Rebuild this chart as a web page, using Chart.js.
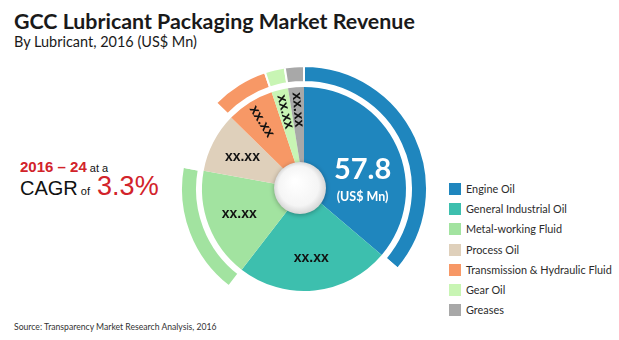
<!DOCTYPE html>
<html>
<head>
<meta charset="utf-8">
<script src="https://cdn.jsdelivr.net/npm/chart.js@4.4.0/dist/chart.umd.min.js"></script>
<style>
body { margin: 0; width: 619px; height: 340px; background: #fff; position: relative; overflow: hidden; font-family: Lato, "Liberation Sans", sans-serif; }
.abs { position: absolute; white-space: nowrap; line-height: 1; }
#title { left: 14px; top: 11px; font-size: 19px; font-weight: bold; color: #1a1a1a; }
#subtitle { left: 14px; top: 35px; font-size: 14px; color: #1a1a1a; }
.cagr { left: 20px; font-family: "Liberation Sans", Arial, sans-serif; font-size: 11px; color: #111; }
#cagr1 { top: 159px; }
#cagr2 { top: 173px; }
.red { color: #d2232a; }
#source { left: 14px; top: 323px; font-size: 8.5px; color: #333; }
#chartBox { position: absolute; left: 180px; top: 65px; }
#legend { position: absolute; left: 449px; top: 183px; margin: 0; padding: 0; list-style: none; }
#legend li { height: 20.2px; position: relative; font-size: 11.5px; color: #2b2b2b; white-space: nowrap; line-height: 1; }
#legend li span { position: absolute; left: 0; top: 0; width: 12px; height: 12px; }
#legend li b { position: absolute; left: 17px; top: 0; height: 12px; line-height: 12px; font-weight: normal; }
</style>
</head>
<body>
<div id="title" class="abs">GCC Lubricant Packaging Market Revenue</div>
<div id="subtitle" class="abs">By Lubricant, 2016 (US$ Mn)</div>
<div id="cagr1" class="abs cagr"><span class="red" style="font-size:15px;font-weight:bold">2016 – 24</span> at a</div>
<div id="cagr2" class="abs cagr"><span style="font-size:20px">CAGR</span> of <span class="red" style="font-size:27px;margin-left:4px">3.3%</span></div>
<div id="chartBox"><canvas id="lubricantChart" width="248" height="248"></canvas></div>
<ul id="legend"></ul>
<div id="source" class="abs">Source: Transparency Market Research Analysis, 2016</div>

<script>
//DATA
var categories = ["Engine Oil", "General Industrial Oil", "Metal-working Fluid", "Process Oil", "Transmission & Hydraulic Fluid", "Gear Oil", "Greases"];
var revenue = [57.8, 38.7, 27.8, 15.1, 12.0, 4.2, 4.0];
var sliceLabels = ["57.8", "xx.xx", "xx.xx", "xx.xx", "xx.xx", "xx.xx", "xx.xx"];
var unitLabel = "(US$ Mn)";
// which categories get the outer highlight arc
var outerArc = [true, false, true, false, true, true, true];

//Colors
var $engine = "#1f86be";
var $industrial = "#3dbfae";
var $metal = "#a2e3a0";
var $process = "#dfd0bb";
var $transmission = "#f79866";
var $gear = "#c8f5b4";
var $greases = "#a8a8a8";
var sliceColors = [$engine, $industrial, $metal, $process, $transmission, $gear, $greases];
var ringColors = sliceColors.map(function (c, i) { return outerArc[i] ? c : "rgba(0,0,0,0)"; });

// Legend
var legend = document.getElementById("legend");
categories.forEach(function (name, i) {
  var li = document.createElement("li");
  li.innerHTML = '<span style="background:' + sliceColors[i] + '"></span><b></b>';
  li.querySelector("b").textContent = name;
  legend.appendChild(li);
});

// scale a text's font so it spans the width seen in the original (Calibri there)
function fitWidth(els, target) {
  var widest = 0;
  els.forEach(function (el) { widest = Math.max(widest, el.getBoundingClientRect().width); });
  var size = parseFloat(getComputedStyle(els[0]).fontSize) * target / widest;
  els.forEach(function (el) { el.style.fontSize = size + "px"; });
}
fitWidth([document.getElementById("title")], 401);
fitWidth([document.getElementById("subtitle")], 183);
fitWidth([document.getElementById("source")], 203);
fitWidth(Array.prototype.slice.call(document.querySelectorAll("#legend li b")), 146);

// Center ball + slice labels
var pieDecor = {
  id: "pieDecor",
  afterDatasetsDraw: function (chart) {
    var ctx = chart.ctx;
    var meta = chart.getDatasetMeta(2);
    var first = meta.data[0];
    var cx = first.x - 4, cy = first.y - 1;

    ctx.save();
    ctx.shadowColor = "rgba(0,0,0,0.3)";
    ctx.shadowBlur = 5;
    ctx.shadowOffsetY = 1;
    var g = ctx.createRadialGradient(cx - 5, cy - 7, 2, cx, cy, 27);
    g.addColorStop(0, "#ffffff");
    g.addColorStop(0.72, "#f5f5f5");
    g.addColorStop(1, "#d2d2d2");
    ctx.fillStyle = g;
    ctx.beginPath();
    ctx.arc(cx, cy, 26, 0, Math.PI * 2);
    ctx.fill();
    ctx.restore();

    meta.data.forEach(function (arc, i) {
      var p = arc.getProps(["x", "y", "startAngle", "endAngle", "outerRadius"], true);
      var mid = (p.startAngle + p.endAngle) / 2;
      var span = p.endAngle - p.startAngle;
      ctx.save();
      ctx.textAlign = "center";
      ctx.textBaseline = "middle";
      if (i === 0) {
        var lx = p.x + Math.cos(mid) * p.outerRadius * 0.6 + 3;
        ctx.fillStyle = "#fff";
        ctx.font = "bold 29px Lato";
        ctx.fillText(sliceLabels[i], lx, p.y - 19);
        ctx.font = "bold 12.5px Lato";
        ctx.fillText(unitLabel, lx, p.y + 8);
      } else {
        var r = p.outerRadius * (span < 0.5 ? 0.78 : 0.68);
        ctx.translate(p.x + Math.cos(mid) * r, p.y + Math.sin(mid) * r);
        if (span < 0.5) ctx.rotate(mid - Math.PI);
        ctx.fillStyle = "#111";
        ctx.font = "bold 14px 'Liberation Sans'";
        ctx.fillText(sliceLabels[i], 0, 0);
      }
      ctx.restore();
    });
  }
};

var ctx = document.getElementById("lubricantChart").getContext("2d");
var lubricantChart = new Chart(ctx, {
  type: "doughnut",
  data: {
    labels: categories,
    datasets: [
      {
        // outer highlight arcs
        data: revenue,
        backgroundColor: ringColors,
        borderColor: "#fff",
        borderWidth: 2,
        hoverBorderWidth: 2,
        weight: 16
      },
      {
        // white gap
        data: revenue,
        backgroundColor: "rgba(0,0,0,0)",
        borderWidth: 0,
        hoverBorderWidth: 0,
        weight: 5
      },
      {
        data: revenue,
        backgroundColor: sliceColors,
        borderWidth: 0,
        hoverBorderWidth: 0,
        weight: 102
      }
    ]
  },
  options: {
    responsive: false,
    animation: false,
    events: [],
    cutout: 0,
    layout: { padding: 0 },
    plugins: {
      legend: { display: false },
      tooltip: { enabled: false }
    }
  },
  plugins: [pieDecor]
});
</script>
</body>
</html>
